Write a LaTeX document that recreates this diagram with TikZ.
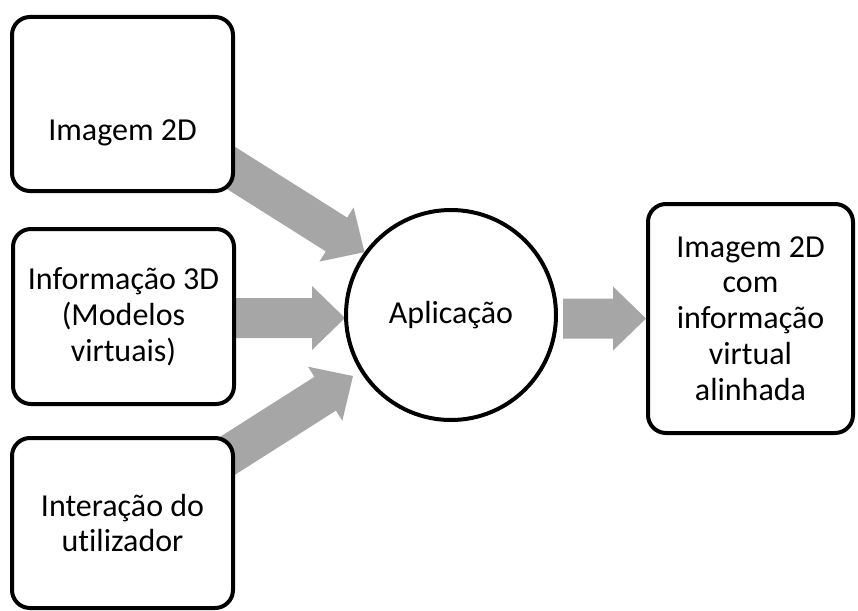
\documentclass[tikz,border=0pt]{standalone}
\usepackage{fontspec}
\setmainfont{Carlito}[Ligatures=NoCommon]
\usetikzlibrary{calc,backgrounds}
\definecolor{flowgray}{RGB}{166,166,166}
\tikzset{
  card/.style={draw=black, line width=4pt, rounded corners=18pt, fill=white, align=center, inner sep=0pt},
  hub/.style={draw=black, line width=4pt, circle, fill=white, minimum size=210pt, inner sep=0pt},
  caption/.style={font=\fontsize{32}{35.8}\selectfont},
  flowfill/.style={fill=flowgray},
}
% Wide block arrow from tail #1 to tip #2 (shaft 40pt, head 64pt wide, 33pt long)
\newcommand\flowarrow[2]{%
  \path ($(#2)!33pt!(#1)$) coordinate (fabase);
  \fill[flowfill] ($(#1)!20pt!90:(#2)$) -- ($(fabase)!20pt!90:(#2)$)
    -- ($(fabase)!32pt!90:(#2)$) -- (#2) -- ($(fabase)!32pt!-90:(#2)$)
    -- ($(fabase)!20pt!-90:(#2)$) -- ($(#1)!20pt!-90:(#2)$) -- cycle;}
\begin{document}
\begin{tikzpicture}[x=1pt,y=-1pt]
\useasboundingbox (0,0) rectangle (858,610);

% inputs
\node[card, minimum width=221pt, minimum height=174pt] (img) at (122.5,104) {};
\node[caption, anchor=base] (imgtxt) at (122.5,140) {Imagem 2D};
\node[card, caption, minimum width=221pt, minimum height=175pt] (info) at (123.5,316.5)
  {Informação 3D\\(Modelos\\virtuais)};
\node[card, caption, minimum width=221pt, minimum height=170pt] (user) at (122.5,523)
  {Interação do\\utilizador};

% processing
\node[hub, caption] (app) at (451,315) {Aplicação};

% output
\node[card, caption, minimum width=205pt, minimum height=229pt] (out) at (750.5,318.5)
  {Imagem 2D\\com\\informação\\virtual\\alinhada};

% arrow ends
\coordinate (t1) at (222.7,162.7);
\coordinate (h1) at (app.144);
\coordinate (t2) at (225,318);
\coordinate (h2) at (345,318);
\coordinate (t3) at (209.5,467.3);
\coordinate (h3) at (353,376);
\coordinate (t4) at (563,318.5);
\coordinate (h4) at (out.west);

\begin{pgfonlayer}{background}
  \flowarrow{t1}{h1}
  \flowarrow{t2}{h2}
  \flowarrow{t3}{h3}
  \flowarrow{t4}{h4}
\end{pgfonlayer}
\end{tikzpicture}
\end{document}
